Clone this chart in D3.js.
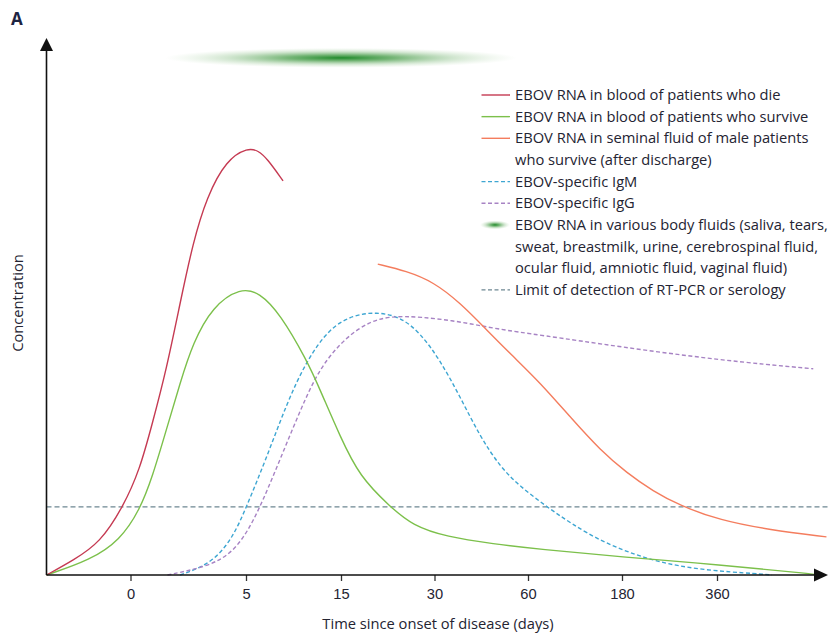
<!DOCTYPE html>
<html>
<head>
<meta charset="utf-8">
<script src="https://d3js.org/d3.v7.min.js"></script>
<style>
  body { margin: 0; background: #fff; }
  svg { display: block; font-family: "Open Sans", "Noto Sans", sans-serif; }
  .tick text { font-size: 14.7px; fill: #242432; }
</style>
</head>
<body>
<svg id="chart" width="829" height="635"></svg>
<script>
// x axis is a stretched time scale: labelled days, unequal spacing
var tickDays = [0, 5, 15, 30, 60, 180, 360];
var axisDays = [-4, 0, 5, 15, 30, 60, 180, 360, 560];

// [day, concentration] (arbitrary units 0-100)
var bloodDie = [[-4,0],[-2.7,2.8],[-1.45,6],[-0.35,12.7],[0.4,19.6],[0.95,28.3],[1.55,38.2],[2.15,50.7],[2.7,61.8],[3.3,70.4],[4.15,77.3],[5.2,79.6],[6.3,79],[7.2,77.6],[8.9,73.4]];
var bloodSurvive = [[-4,0],[-1.9,2.8],[-0.5,6.5],[0.4,12.1],[0.95,18.3],[1.55,27],[2.15,35.8],[2.7,43.2],[3.55,50],[4.75,53.5],[6.45,52.6],[8.6,48.6],[11.4,40],[12.8,34.5],[14.9,25.8],[18,18.3],[22.9,12.7],[26.5,9.2],[33.9,7.1],[48.8,5.8],[75,4.8],[177,3.4],[365,1.9],[535,0.2],[547,0]];
var semen = [[20.9,57.9],[25.5,56.6],[29.8,54.6],[38.2,50.7],[46.8,45.6],[55.2,40.7],[75,35.9],[117,28.9],[152,23.3],[189,19],[239,15.6],[290,12.9],[365,10.2],[456,8.4],[559,7.1]];
var igm = [[2.15,0],[3.55,2.2],[4.45,7.1],[5.05,12.7],[7.2,22],[9.3,32],[11.4,40],[13.8,46],[16.9,48.4],[20.7,49],[24.5,48.1],[27.7,45.1],[31.8,40],[38.2,33.2],[44.6,25.8],[51,20.2],[57.4,16.5],[84,12.7],[114,9.7],[156,6],[239,2.5],[333,0.9],[438,0.2],[460,0]];
var igg = [[1.6,0],[3.3,1.5],[4.45,4.1],[5.75,9.7],[7.85,18.3],[10.7,30.7],[12.8,38.8],[15.9,44.4],[19.6,47.2],[22.9,48.2],[27.7,48.1],[38.2,47.2],[50,45.8],[75,44.7],[177,42.5],[365,40],[535,38.4]];
var detectionLimit = 12.7;
// RNA in other body fluids: day span and peak, drawn as a fading band
var fluids = { start: 1.5, peak: 15, end: 55, level: 96.3 };

var legendItems = [
  { kind: "line", color: "#c53a52", lines: ["EBOV RNA in blood of patients who die"] },
  { kind: "line", color: "#7cc04b", lines: ["EBOV RNA in blood of patients who survive"] },
  { kind: "line", color: "#f47d5e", lines: ["EBOV RNA in seminal fluid of male patients", "who survive (after discharge)"] },
  { kind: "dash", color: "#3ea6d2", lines: ["EBOV-specific IgM"] },
  { kind: "dash", color: "#a783c4", lines: ["EBOV-specific IgG"] },
  { kind: "blob", color: "#2e8a32", lines: ["EBOV RNA in various body fluids (saliva, tears,", "sweat, breastmilk, urine, cerebrospinal fluid,", "ocular fluid, amniotic fluid, vaginal fluid)"] },
  { kind: "dash", color: "#6d8792", lines: ["Limit of detection of RT-PCR or serology"] }
];

var svg = d3.select("#chart");
var x = d3.scaleLinear().domain(axisDays).range([46.5, 130.5, 246, 341, 434.5, 528, 622, 717, 827]);
var y = d3.scaleLinear().domain([0, 100]).range([575, 38]);

var defs = svg.append("defs");
var grad = defs.append("radialGradient").attr("id", "fluidGrad");
grad.append("stop").attr("offset", "0%").attr("stop-color", "#1f8a2a").attr("stop-opacity", 1);
grad.append("stop").attr("offset", "30%").attr("stop-color", "#3a963c").attr("stop-opacity", 0.7);
grad.append("stop").attr("offset", "65%").attr("stop-color", "#6aae66").attr("stop-opacity", 0.3);
grad.append("stop").attr("offset", "100%").attr("stop-color", "#a8d0a0").attr("stop-opacity", 0);

// panel letter
svg.append("text").attr("x", 11).attr("y", 25).text("A")
  .style("font-weight", "bold").style("font-size", "17px").attr("fill", "#1d2442");

// fluids band
var rx = Math.max(x(fluids.peak) - x(fluids.start), x(fluids.end) - x(fluids.peak));
svg.append("ellipse")
  .attr("cx", x(fluids.peak)).attr("cy", y(fluids.level))
  .attr("rx", rx).attr("ry", 10)
  .attr("fill", "url(#fluidGrad)");

// limit of detection
svg.append("line")
  .attr("x1", x(-4)).attr("x2", 829)
  .attr("y1", y(detectionLimit)).attr("y2", y(detectionLimit))
  .attr("stroke", "#6d8792").attr("stroke-width", 1.3).attr("stroke-dasharray", "5,3");

var line = d3.line()
  .x(function(d) { return x(d[0]); })
  .y(function(d) { return y(d[1]); })
  .curve(d3.curveBasis);

var series = [
  { data: igm, color: "#3ea6d2", dash: "4,2.5" },
  { data: igg, color: "#a783c4", dash: "4,2.5" },
  { data: semen, color: "#f47d5e", dash: null },
  { data: bloodSurvive, color: "#7cc04b", dash: null },
  { data: bloodDie, color: "#c53a52", dash: null }
];
series.forEach(function(s) {
  svg.append("path").datum(s.data)
    .attr("d", line)
    .attr("fill", "none")
    .attr("stroke", s.color)
    .attr("stroke-width", 1.4)
    .attr("stroke-dasharray", s.dash);
});

// axes
var xAxis = svg.append("g").attr("transform", "translate(0," + y(0) + ")")
  .call(d3.axisBottom(x).tickValues(tickDays).tickFormat(d3.format("d")).tickSize(6).tickSizeOuter(0));
xAxis.select(".domain").remove();
xAxis.selectAll(".tick line").attr("stroke", "#333").attr("stroke-width", 1.3);
xAxis.selectAll(".tick text").attr("dy", "1.05em");

svg.append("line").attr("x1", 46.5).attr("x2", 816).attr("y1", y(0)).attr("y2", y(0))
  .attr("stroke", "#111").attr("stroke-width", 1.6);
svg.append("path").attr("d", "M814,568.5L828,575L814,581.5Z").attr("fill", "#111");
svg.append("line").attr("x1", 46.5).attr("x2", 46.5).attr("y1", y(0)).attr("y2", 50)
  .attr("stroke", "#111").attr("stroke-width", 1.6);
svg.append("path").attr("d", "M40,51L46.5,38L53,51Z").attr("fill", "#111");

svg.append("text").attr("x", 438).attr("y", 629).attr("text-anchor", "middle")
  .style("font-size", "14.7px").attr("fill", "#242432")
  .text("Time since onset of disease (days)");
svg.append("text").attr("transform", "translate(23,303) rotate(-90)").attr("text-anchor", "middle")
  .style("font-size", "14.7px").attr("fill", "#242432")
  .text("Concentration");

// legend
var lg = svg.append("g");
var row = 0, rowH = 21.65, legendTop = 95;
legendItems.forEach(function(item) {
  var cy = legendTop + row * rowH;
  if (item.kind === "blob") {
    lg.append("ellipse").attr("cx", 495).attr("cy", cy).attr("rx", 15).attr("ry", 4.5)
      .attr("fill", "url(#fluidGrad)");
  } else {
    lg.append("line").attr("x1", 481.5).attr("x2", 510).attr("y1", cy).attr("y2", cy)
      .attr("stroke", item.color).attr("stroke-width", 1.4)
      .attr("stroke-dasharray", item.kind === "dash" ? "4,2.5" : null);
  }
  item.lines.forEach(function(t) {
    lg.append("text").attr("x", 515).attr("y", legendTop + row * rowH + 5)
      .style("font-size", "14.7px").attr("fill", "#242432").text(t);
    row++;
  });
});
</script>
</body>
</html>
